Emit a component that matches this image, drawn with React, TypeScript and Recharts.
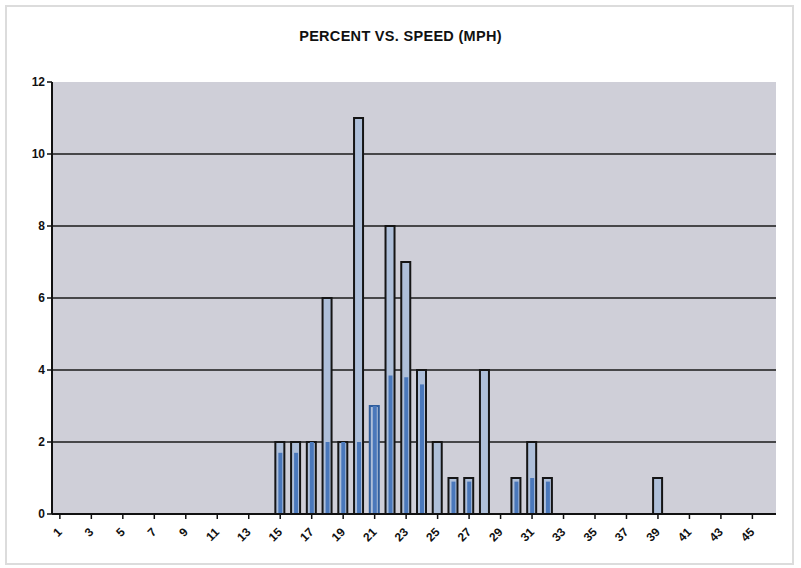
import { Bar, BarChart, CartesianGrid, Cell, XAxis, YAxis } from "recharts"

const speeds = [
  "1", "2", "3", "4", "5", "6", "7", "8", "9", "10",
  "11", "12", "13", "14", "15", "16", "17", "18", "19", "20",
  "21", "22", "23", "24", "25", "26", "27", "28", "29", "30",
  "31", "32", "33", "34", "35", "36", "37", "38", "39", "40",
  "41", "42", "43", "44", "45", "46",
]

const percent = [
  0, 0, 0, 0, 0, 0, 0, 0, 0, 0,
  0, 0, 0, 0, 2, 2, 2, 6, 2, 11,
  3, 8, 7, 4, 2, 1, 1, 4, 0, 1,
  2, 1, 0, 0, 0, 0, 0, 0, 1, 0,
  0, 0, 0, 0, 0, 0,
]

// darker blue core visible inside the outlined bars on the scan
const core = [
  0, 0, 0, 0, 0, 0, 0, 0, 0, 0,
  0, 0, 0, 0, 1.7, 1.7, 2, 2, 2, 2,
  3, 3.85, 3.8, 3.6, 0, 0.9, 0.9, 0, 0, 0.9,
  1, 0.9, 0, 0, 0, 0, 0, 0, 0, 0,
  0, 0, 0, 0, 0, 0,
]

const yTicks = [0, 2, 4, 6, 8, 10, 12]

const data = speeds.map((speed, i) => ({ speed, percent: percent[i], core: core[i] }))

const font = "'Liberation Sans', Arial, sans-serif"

function SpeedTick({ x, y, payload }: { x?: number; y?: number; payload?: { value: string } }) {
  const ty = (y ?? 0) + 9
  return (
    <text
      x={x}
      y={ty}
      transform={`rotate(-45 ${x} ${ty})`}
      textAnchor="end"
      dominantBaseline="central"
      fontFamily={font}
      fontWeight="bold"
      fontSize={12}
      fill="#111"
    >
      {payload?.value}
    </text>
  )
}

export default function App() {
  return (
    <div style={{ position: "relative", width: 801, height: 568, background: "#fff", fontFamily: font }}>
      <style>{"body{margin:0}"}</style>
      <div
        style={{
          position: "absolute",
          left: 5,
          top: 5,
          width: 785,
          height: 556,
          border: "2px solid #dcdcdc",
        }}
      />
      <div
        style={{
          position: "absolute",
          top: 28,
          left: 0,
          width: 801,
          textAlign: "center",
          fontWeight: "bold",
          fontSize: 14.5,
          letterSpacing: 0.3,
          color: "#111",
        }}
      >
        PERCENT VS. SPEED (MPH)
      </div>
      <div style={{ position: "absolute", left: 0, top: 0 }}>
        <BarChart
          width={801}
          height={568}
          data={data}
          margin={{ top: 82, right: 25, bottom: 0, left: 0 }}
          barGap={0}
        >
          <CartesianGrid
            vertical={false}
            horizontalValues={[2, 4, 6, 8, 10]}
            stroke="#1a1a1a"
            strokeWidth={1.5}
            fill="#cfcfd8"
            fillOpacity={1}
          />
          <XAxis xAxisId="inner" dataKey="speed" hide height={0} />
          <XAxis
            xAxisId="main"
            dataKey="speed"
            interval={1}
            height={54}
            tick={<SpeedTick />}
            tickSize={5}
            axisLine={{ stroke: "#111", strokeWidth: 2 }}
            tickLine={{ stroke: "#111", strokeWidth: 1.5 }}
          />
          <YAxis
            width={52}
            domain={[0, 12]}
            ticks={yTicks}
            interval={0}
            tickSize={5}
            axisLine={{ stroke: "#111", strokeWidth: 2 }}
            tickLine={{ stroke: "#111", strokeWidth: 1.5 }}
            tick={{ fontFamily: font, fontWeight: "bold", fontSize: 12, fill: "#111" }}
          />
          <Bar
            xAxisId="main"
            dataKey="percent"
            barSize={9}
            fill="#aebfd9"
            stroke="#151515"
            strokeWidth={2}
            isAnimationActive={false}
          >
            {data.map((d) => (
              <Cell key={d.speed} stroke={d.speed === "21" ? "#2f5d9c" : "#151515"} />
            ))}
          </Bar>
          <Bar xAxisId="inner" dataKey="core" barSize={4} fill="#4a78bb" isAnimationActive={false} />
        </BarChart>
      </div>
    </div>
  )
}
